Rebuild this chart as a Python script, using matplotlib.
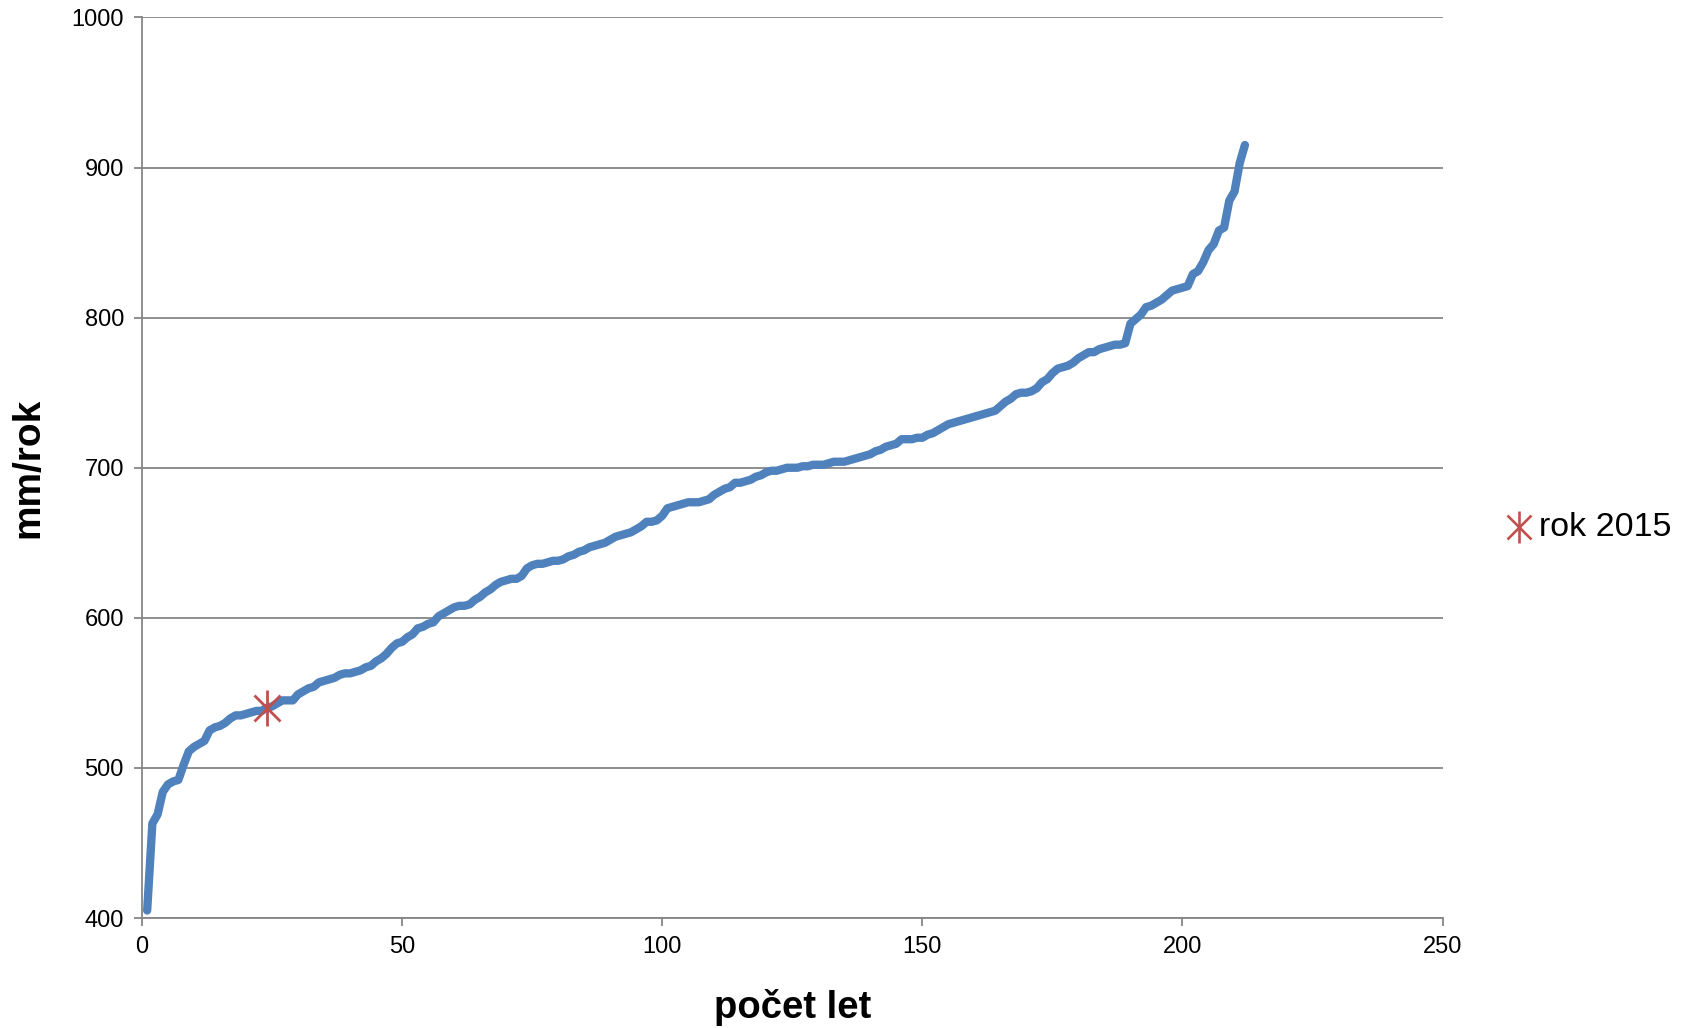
import matplotlib
matplotlib.use("Agg")
import matplotlib.pyplot as plt
from matplotlib.lines import Line2D

# Sorted annual precipitation values (mm/rok), rank 1..212
values = [
    405, 463, 469, 484, 489, 491, 492, 502, 511, 514,
    516, 518, 525, 527, 528, 530, 533, 535, 535, 536,
    537, 538, 538, 540, 541, 543, 545, 545, 545, 549,
    551, 553, 554, 557, 558, 559, 560, 562, 563, 563,
    564, 565, 567, 568, 571, 573, 576, 580, 583, 584,
    587, 589, 593, 594, 596, 597, 601, 603, 605, 607,
    608, 608, 609, 612, 614, 617, 619, 622, 624, 625,
    626, 626, 628, 633, 635, 636, 636, 637, 638, 638,
    639, 641, 642, 644, 645, 647, 648, 649, 650, 652,
    654, 655, 656, 657, 659, 661, 664, 664, 665, 668,
    673, 674, 675, 676, 677, 677, 677, 678, 679, 682,
    684, 686, 687, 690, 690, 691, 692, 694, 695, 697,
    698, 698, 699, 700, 700, 700, 701, 701, 702, 702,
    702, 703, 704, 704, 704, 705, 706, 707, 708, 709,
    711, 712, 714, 715, 716, 719, 719, 719, 720, 720,
    722, 723, 725, 727, 729, 730, 731, 732, 733, 734,
    735, 736, 737, 738, 741, 744, 746, 749, 750, 750,
    751, 753, 757, 759, 763, 766, 767, 768, 770, 773,
    775, 777, 777, 779, 780, 781, 782, 782, 783, 796,
    799, 802, 807, 808, 810, 812, 815, 818, 819, 820,
    821, 829, 831, 837, 845, 849, 858, 860, 878, 884,
    903, 915,
]
ranks = list(range(1, len(values) + 1))

highlight_rank = [24]
highlight_value = [540]
highlight_label = "rok 2015"

x_ticks = [0, 50, 100, 150, 200, 250]
y_ticks = [400, 500, 600, 700, 800, 900, 1000]
x_label = "počet let"
y_label = "mm/rok"

plt.rcParams['font.family'] = ['Liberation Sans', 'DejaVu Sans']

fig = plt.figure(figsize=(16.92, 10.28), dpi=100)
ax = fig.add_axes([0.0839, 0.107, 0.8526 - 0.0839, 0.983 - 0.107])

grid_c = "#868686"
ax.plot(ranks, values, color="#4F81BD", lw=6, solid_joinstyle="round",
        solid_capstyle="round", zorder=3)
red = "#C0504D"
ax.plot(highlight_rank, highlight_value, linestyle="none", marker="x",
        markersize=19, mew=2, color=red, zorder=4)
ax.plot(highlight_rank, highlight_value, linestyle="none", marker="|",
        markersize=26, mew=2, color=red, zorder=4)

ax.set_xlim(0, 250)
ax.set_ylim(400, 1000)
ax.set_xticks(x_ticks)
ax.set_yticks(y_ticks)
ax.yaxis.grid(True, color=grid_c, lw=1.3)
ax.set_axisbelow(True)
for s in ["top", "right"]:
    ax.spines[s].set_visible(False)
for s in ["left", "bottom"]:
    ax.spines[s].set_color(grid_c)
    ax.spines[s].set_linewidth(1.3)
ax.tick_params(axis="both", direction="out", length=6, width=1.3,
               color=grid_c, labelsize=17, pad=7)

ax.set_xlabel(x_label, fontsize=27.5, fontweight="bold", labelpad=22)
ax.set_ylabel(y_label, fontsize=28, fontweight="bold", labelpad=18)

# legend (manual, figure coordinates)
lx, ly = 0.8975, 0.487
fig.add_artist(Line2D([lx], [ly], transform=fig.transFigure, linestyle="none",
                      marker="x", markersize=17, mew=1.9, color=red))
fig.add_artist(Line2D([lx], [ly], transform=fig.transFigure, linestyle="none",
                      marker="|", markersize=23, mew=1.9, color=red))
fig.text(0.9095, ly, highlight_label, fontsize=24.5, va="center", ha="left")

fig.savefig("out.png", dpi=100)
